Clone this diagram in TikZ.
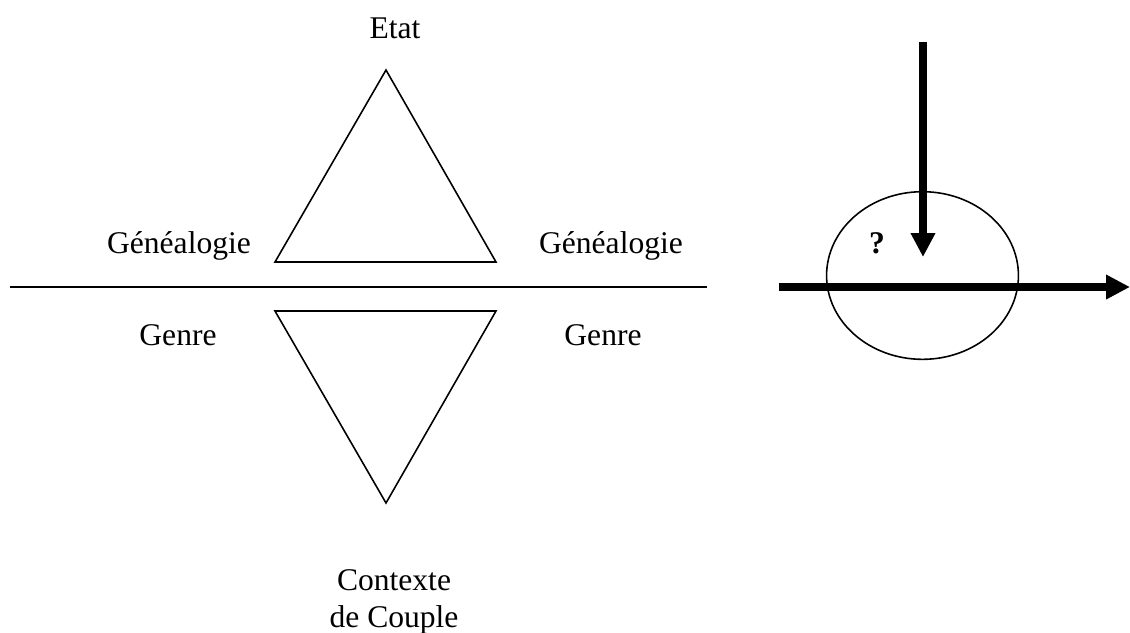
\documentclass[tikz,border=0pt]{standalone}
\usepackage{fontspec}
\setmainfont{Liberation Serif}
\usepackage{tikz}
\usetikzlibrary{shapes.geometric, arrows.meta, positioning}
\tikzstyle{lbl} = [inner sep=0pt, anchor=base, font=\fontsize{12}{14}\selectfont]
\tikzstyle{thin} = [line width=0.6pt, line join=miter]
\tikzstyle{region} = [ellipse, draw=black, line width=0.6pt, minimum width=72.9pt, minimum height=63.7pt, inner sep=0pt]
\tikzstyle{arrow} = [line width=2.7pt, -{Triangle[length=9.1pt, width=8.8pt]}]

\begin{document}
\begin{tikzpicture}[x=0.38pt, y=-0.38pt]
    \useasboundingbox (0,0) rectangle (1130,632);

    % upper triangle
    \coordinate (up_apex) at (386,70);
    \coordinate (up_left) at (275,262);
    \coordinate (up_right) at (496,262);
    \draw[thin] (up_apex) -- (up_left) -- (up_right) -- cycle;

    % lower triangle
    \coordinate (low_left) at (275,311);
    \coordinate (low_right) at (496,311);
    \coordinate (low_apex) at (386,503);
    \draw[thin] (low_left) -- (low_right) -- (low_apex) -- cycle;

    % separating line
    \coordinate (sep_start) at (10,287);
    \coordinate (sep_end) at (707,287);
    \draw[thin] (sep_start) -- (sep_end);

    \node (etat) [lbl] at (395,38) {Etat};
    \node (genealogie_left) [lbl] at (179,253) {Généalogie};
    \node (genealogie_right) [lbl] at (611,253) {Généalogie};
    \node (genre_left) [lbl] at (178,345) {Genre};
    \node (genre_right) [lbl] at (603,345) {Genre};
    \node (contexte) [lbl] at (394,590) {Contexte};
    \node (couple) [lbl] at (394,627) {de Couple};

    % right part
    \node (region) [region] at (922.5,275.5) {};
    \node (question) [lbl, font=\fontsize{12}{14}\selectfont\bfseries] at (877,253) {?};

    \coordinate (down_start) at (923,42);
    \coordinate (down_end) at (923,257);
    \coordinate (axis_start) at (779,287);
    \coordinate (axis_end) at (1130,287);

      \draw[arrow] (down_start) -- (down_end);

      \draw[arrow] (axis_start) -- (axis_end);

\end{tikzpicture}
\end{document}
